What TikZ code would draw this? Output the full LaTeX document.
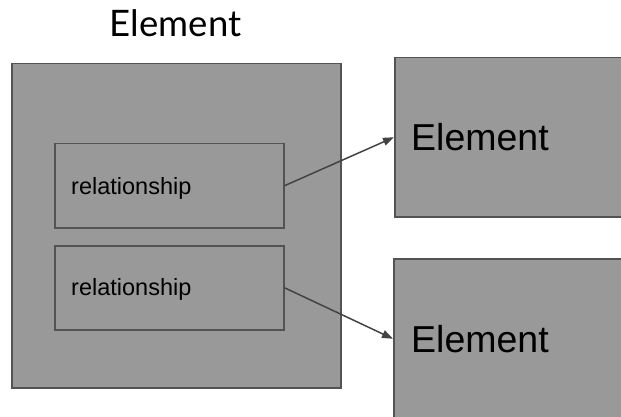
\documentclass[tikz,border=0pt]{standalone}
\usepackage{fontspec}
\setmainfont{Liberation Sans}
\newfontfamily\titlefont{Lato}
\usetikzlibrary{arrows.meta}

\definecolor{boxfill}{HTML}{999999}
\definecolor{boxline}{HTML}{535353}
\definecolor{linkline}{HTML}{434343}

\begin{document}
\begin{tikzpicture}[x=1pt, y=-1pt,
  box/.style={draw=boxline, fill=boxfill, line width=1.5pt, inner sep=0pt,
              anchor=north west, rectangle},
  label/.style={anchor=base west, inner sep=0pt, text=black},
  link/.style={draw=linkline, line width=1.5pt,
               -{Triangle[length=11pt, width=8pt]}}]
\useasboundingbox (0,0) rectangle (621,417);
\clip (0,0) rectangle (621,417);

% containing element and its caption
\node[anchor=base, inner sep=0pt, font=\titlefont\fontsize{36.5}{42}\selectfont]
  (title) at (175.5,37) {Element};
\node[box, minimum width=329pt, minimum height=324pt] (outer) at (11,63) {};

% relationship boxes inside the element
\node[box, minimum width=229pt, minimum height=84pt] (rel1) at (54,143) {};
\node[box, minimum width=229pt, minimum height=84pt] (rel2) at (54,245) {};
\node[label, font=\fontsize{23.5}{28}\selectfont] (rel1txt) at (71,194) {relationship};
\node[label, font=\fontsize{23.5}{28}\selectfont] (rel2txt) at (71,295) {relationship};

% target elements, running off the right and bottom edges
\node[box, minimum width=240pt, minimum height=159pt] (el1) at (394,57) {};
\node[box, minimum width=240pt, minimum height=160pt] (el2) at (393,258) {};
\node[label, font=\fontsize{37.5}{44}\selectfont] (el1txt) at (411,150) {Element};
\node[label, font=\fontsize{37.5}{44}\selectfont] (el2txt) at (411,352) {Element};

% links from the relationships to their targets
\draw[link] (rel1.east) -- (el1.west);
\draw[link] (rel2.east) -- (el2.west);
\end{tikzpicture}
\end{document}
